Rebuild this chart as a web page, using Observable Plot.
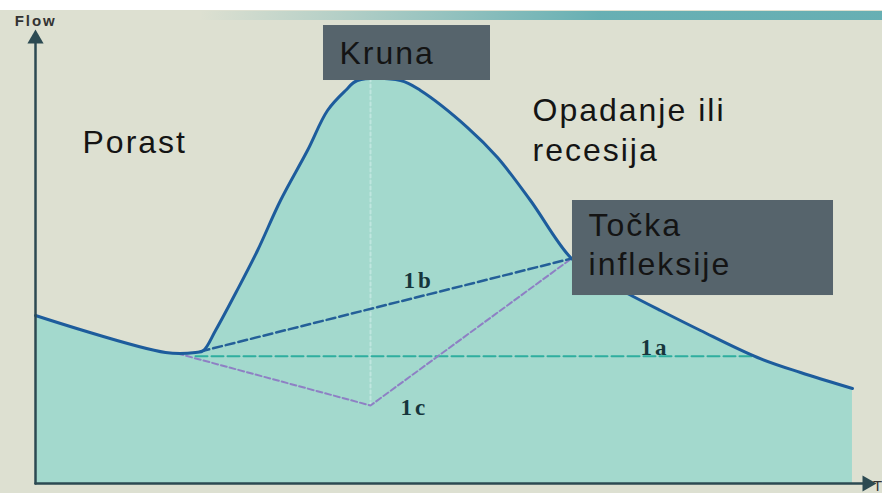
<!DOCTYPE html>
<html>
<head>
<meta charset="utf-8">
<script src="https://cdn.jsdelivr.net/npm/d3@7"></script>
<script src="https://cdn.jsdelivr.net/npm/@observablehq/plot@0.6"></script>
<style>
  html, body { margin: 0; padding: 0; background: #fff; }
  #chart svg { display: block; }
</style>
</head>
<body>
<div id="chart"></div>
<script>
// Hydrograph (time, flow)
const timeVals = [0, 15.57, 19.16, 20.12, 21.56, 24.07, 26.59, 29.34, 32.57, 34.97, 37.13, 38.56, 43.71, 46.11, 51.74, 55.33, 59.28, 64.19, 67.66, 70.90, 74.85, 79.64, 86.47, 91.62, 97.84];
const flowVals = [36.05, 28.11, 28.11, 28.54, 32.83, 41.20, 50.0, 60.73, 71.46, 80.04, 84.33, 86.48, 86.48, 84.33, 76.39, 69.96, 60.73, 48.28, 43.99, 40.77, 37.12, 32.83, 27.04, 23.82, 20.39];

// Baseflow separation lines
const sep1aTime = [19.16, 86.0];
const sep1aFlow = [27.3, 27.3];
const sep1bTime = [19.76, 64.19];
const sep1bFlow = [28.33, 48.28];
const sep1cTime = [17.0, 40.12, 64.19];
const sep1cFlow = [27.9, 16.74, 48.28];

// Peak time marker
const peakTime = [40.12, 40.12];
const peakFlow = [16.74, 86.48];

// Label boxes
const boxNames = ["Kruna", "Točka inflekcije"];
const boxX1 = [34.49, 64.31];
const boxX2 = [54.49, 95.57];
const boxY1 = [86.48, 40.34];
const boxY2 = [98.28, 60.73];

// Text labels
const labelText = ["Kruna", "Porast", "Opadanje ili", "recesija", "Točka", "infleksije"];
const labelX = [36.41, 5.63, 59.52, 59.52, 66.23, 66.23];
const labelY = [92.17, 73.07, 80.04, 71.46, 55.26, 47.0];

const segText = ["1b", "1a", "1c"];
const segX = [44.07, 72.46, 43.71];
const segY = [43.56, 29.18, 16.31];

const hydro = timeVals.map((t, i) => ({t, q: flowVals[i]}));
const mk = (ts, qs) => ts.map((t, i) => ({t, q: qs[i]}));
const boxes = boxNames.map((n, i) => ({n, x1: boxX1[i], x2: boxX2[i], y1: boxY1[i], y2: boxY2[i]}));
const labels = labelText.map((s, i) => ({s, x: labelX[i], y: labelY[i]}));
const segs = segText.map((s, i) => ({s, x: segX[i], y: segY[i]}));

const axisColor = "#2c4a52";

const chart = Plot.plot({
  width: 882,
  height: 493,
  margin: 0,
  x: {domain: [0, 100], range: [35, 870], axis: null},
  y: {domain: [0, 100], range: [483, 17], axis: null},
  style: {overflow: "visible"},
  marks: [
    Plot.areaY(hydro, {x: "t", y: "q", fill: "#a3d9cd", curve: "catmull-rom"}),
    Plot.line(mk(peakTime, peakFlow), {x: "t", y: "q", stroke: "#bfe6df", strokeWidth: 2, strokeDasharray: "3,3"}),
    Plot.line(mk(sep1aTime, sep1aFlow), {x: "t", y: "q", stroke: "#2fae9f", strokeWidth: 2, strokeDasharray: "12,4"}),
    Plot.line(mk(sep1cTime, sep1cFlow), {x: "t", y: "q", stroke: "#8e80c4", strokeWidth: 2, strokeDasharray: "6,3"}),
    Plot.line(mk(sep1bTime, sep1bFlow), {x: "t", y: "q", stroke: "#245f98", strokeWidth: 2.5, strokeDasharray: "9,4"}),
    Plot.line(hydro, {x: "t", y: "q", stroke: "#1d5c9c", strokeWidth: 3, curve: "catmull-rom"}),
    // axes
    Plot.line(mk([0, 0], [0, 95]), {x: "t", y: "q", stroke: axisColor, strokeWidth: 2.5}),
    Plot.line(mk([0, 99.3], [0, 0]), {x: "t", y: "q", stroke: axisColor, strokeWidth: 2.5}),
    Plot.dot([{t: 0, q: 95.4}], {x: "t", y: "q", symbol: "triangle", r: 6, fill: axisColor, stroke: null}),
    Plot.dot([{t: 99.6, q: 0}], {x: "t", y: "q", symbol: "triangle", r: 6, fill: axisColor, stroke: null, rotate: 90}),
    Plot.text([{t: -2.5, q: 99.3}], {x: "t", y: "q", text: () => "Flow", textAnchor: "start", fontSize: 15, fontWeight: "bold", fill: "#333", fontFamily: "Liberation Sans, Arial, sans-serif"}),
    Plot.text([{t: 100.3, q: -0.6}], {x: "t", y: "q", text: () => "T", textAnchor: "start", fontSize: 15, fill: "#333", fontFamily: "Liberation Sans, Arial, sans-serif"}),
    // boxes
    Plot.rect(boxes, {x1: "x1", x2: "x2", y1: "y1", y2: "y2", fill: "#56646c"}),
    Plot.text(labels, {x: "x", y: "y", text: "s", textAnchor: "start", fontSize: 32, fill: "#141414", fontFamily: "Liberation Sans, Arial, sans-serif"}),
    Plot.text(segs, {x: "x", y: "y", text: "s", textAnchor: "start", fontSize: 23, fontWeight: "bold", fill: "#16363c", fontFamily: "Liberation Serif, Times New Roman, serif"})
  ]
});

chart.style.background =
  "linear-gradient(to right, rgba(90,170,176,0) 0px, rgba(90,170,176,0) 200px, rgba(90,170,176,0.9) 600px) 0 11px / 100% 9px no-repeat, " +
  "linear-gradient(to bottom, #ffffff 0 10px, #dde0d1 10px)";
d3.select(chart).selectAll("text").filter(function () { return this.textContent.length > 2; }).style("letter-spacing", "2px");
d3.select(chart).selectAll("text").filter(function () { return /^1/.test(this.textContent); }).style("letter-spacing", "3px");
document.getElementById("chart").appendChild(chart);
</script>
</body>
</html>
